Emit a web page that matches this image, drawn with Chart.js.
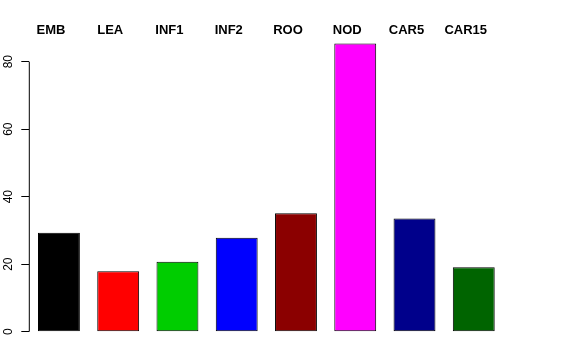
<!DOCTYPE html>
<html>
<head>
<meta charset="utf-8">
<script src="https://cdn.jsdelivr.net/npm/chart.js@4/dist/chart.umd.min.js"></script>
<style>
    html, body { margin: 0; padding: 0; background: #fff; }
    #wrap { width: 576px; height: 360px; }
</style>
</head>
<body>
<div id="wrap"><canvas id="tissueChart"></canvas></div>
<script>
const tissues = ["EMB", "LEA", "INF1", "INF2", "ROO", "NOD", "CAR5", "CAR15"];
const counts = [29.3, 17.9, 20.7, 27.8, 35.1, 85.4, 33.5, 19.1];
const barColors = ["#000000", "#FF0000", "#00CD00", "#0000FF", "#8B0000", "#FF00FF", "#00008B", "#006400"];
const yTicks = [0, 20, 40, 60, 80];

// R style axis line: only from first to last tick
const axisLine = {
    id: "axisLine",
    afterDraw(chart) {
        let y = chart.scales.y;
        let ctx = chart.ctx;
        let x = chart.chartArea.left;
        ctx.save();
        ctx.strokeStyle = "#000";
        ctx.lineWidth = 1;
        ctx.beginPath();
        ctx.moveTo(x, y.getPixelForValue(yTicks[0]));
        ctx.lineTo(x, y.getPixelForValue(yTicks[yTicks.length - 1]));
        ctx.stroke();
        ctx.restore();
    },
};

let ctx = document.getElementById("tissueChart");
let tissueChart = new Chart(ctx, {
    type: "bar",
    data: {
        labels: tissues,
        datasets: [
            {
                data: counts,
                backgroundColor: barColors,
                borderColor: "#000000",
                borderWidth: 1,
                borderSkipped: false,
                barPercentage: 0.707,
                categoryPercentage: 1,
            },
        ],
    },
    options: {
        responsive: true,
        maintainAspectRatio: false,
        animation: false,
        layout: {
            padding: { top: 20, right: 72.6, bottom: 28.3, left: 0 },
        },
        plugins: {
            legend: { display: false },
            tooltip: { enabled: false },
        },
        scales: {
            x: {
                position: "top",
                grid: { display: false, drawTicks: false },
                border: { display: false },
                afterFit(scale) {
                    scale.height = 21.4;
                },
                ticks: {
                    color: "#000",
                    font: { family: "Liberation Sans, Arial, sans-serif", size: 13, weight: "bold" },
                    labelOffset: -8,
                    padding: 3,
                    maxRotation: 0,
                },
            },
            y: {
                min: 0,
                max: 86,
                afterBuildTicks(scale) {
                    scale.ticks = yTicks.map((v) => ({ value: v }));
                },
                afterFit(scale) {
                    scale.width = 29.3;
                },
                grid: {
                    drawOnChartArea: false,
                    drawTicks: true,
                    tickLength: 8,
                    color: "#000",
                },
                border: { display: false },
                ticks: {
                    color: "#000",
                    font: { family: "Liberation Sans, Arial, sans-serif", size: 12 },
                    minRotation: 90,
                    maxRotation: 90,
                    crossAlign: "center",
                    padding: 6,
                },
            },
        },
    },
    plugins: [axisLine],
});
</script>
</body>
</html>
